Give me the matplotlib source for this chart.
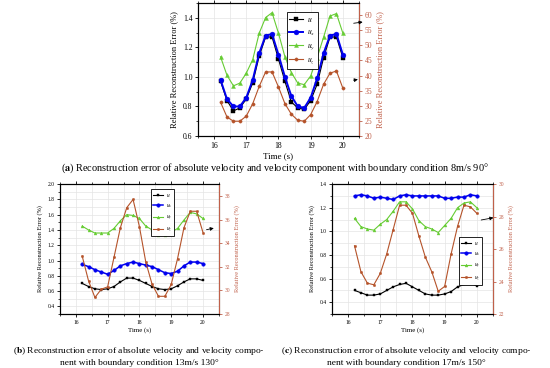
import numpy as np
import matplotlib.pyplot as plt
from matplotlib.ticker import MultipleLocator

plt.rcParams['font.family'] = ['Liberation Serif', 'DejaVu Serif']
plt.rcParams['mathtext.fontset'] = 'stix'

# 时间轴
time = [16.2, 16.4, 16.6, 16.8, 17.0, 17.2, 17.4, 17.6, 17.8, 18.0,
        18.2, 18.4, 18.6, 18.8, 19.0, 19.2, 19.4, 19.6, 19.8, 20.0]

# (a) 8m/s 90°
a_u = [0.97, 0.84, 0.77, 0.79, 0.85, 0.96, 1.14, 1.27, 1.27, 1.12,
       0.97, 0.83, 0.79, 0.78, 0.84, 0.95, 1.13, 1.27, 1.27, 1.13]
a_ux = [0.98, 0.85, 0.80, 0.80, 0.86, 0.98, 1.16, 1.28, 1.29, 1.15,
        1.00, 0.87, 0.80, 0.79, 0.86, 0.99, 1.16, 1.28, 1.29, 1.15]
a_uy = [46.2, 40.1, 36.6, 37.5, 40.8, 45.3, 54.0, 59.2, 60.8, 54.0,
        46.2, 41.0, 37.5, 37.0, 39.9, 45.9, 52.7, 59.7, 60.5, 54.0]
a_uz = [31.2, 26.3, 24.9, 24.9, 26.6, 30.7, 36.4, 41.2, 41.2, 36.2,
        30.7, 27.2, 25.2, 24.9, 27.1, 31.4, 37.1, 40.8, 41.5, 35.8]

# (b) 13m/s 130°
b_u = [0.70, 0.66, 0.63, 0.62, 0.63, 0.66, 0.72, 0.77, 0.77, 0.74,
       0.70, 0.66, 0.63, 0.62, 0.63, 0.67, 0.72, 0.76, 0.76, 0.74]
b_ux = [0.95, 0.92, 0.88, 0.85, 0.82, 0.87, 0.93, 0.96, 0.98, 0.96,
        0.94, 0.92, 0.88, 0.84, 0.83, 0.86, 0.93, 0.98, 0.98, 0.96]
b_uy = [1.45, 1.40, 1.36, 1.36, 1.36, 1.42, 1.52, 1.60, 1.59, 1.55,
        1.45, 1.40, 1.34, 1.34, 1.37, 1.42, 1.53, 1.63, 1.61, 1.55]
b_uz = [32.9, 30.8, 29.4, 30.1, 30.3, 32.8, 35.3, 37.0, 37.7, 35.4,
        32.4, 30.5, 29.5, 29.5, 30.5, 32.7, 35.3, 36.7, 36.7, 34.9]

# (c) 17m/s 150°
c_u = [0.50, 0.48, 0.46, 0.46, 0.47, 0.50, 0.53, 0.55, 0.56, 0.53,
       0.50, 0.47, 0.46, 0.46, 0.47, 0.49, 0.53, 0.55, 0.56, 0.54]
c_ux = [1.30, 1.31, 1.30, 1.28, 1.29, 1.28, 1.27, 1.30, 1.31, 1.30,
        1.30, 1.30, 1.30, 1.30, 1.28, 1.28, 1.29, 1.29, 1.31, 1.30]
c_uy = [1.11, 1.04, 1.02, 1.01, 1.06, 1.10, 1.17, 1.25, 1.25, 1.19,
        1.09, 1.04, 1.02, 0.99, 1.05, 1.11, 1.20, 1.24, 1.25, 1.20]
c_uz = [26.2, 24.6, 23.9, 23.8, 24.5, 25.7, 27.2, 28.7, 28.7, 28.2,
        26.8, 25.5, 24.6, 23.4, 23.7, 25.7, 27.4, 28.7, 28.6, 28.2]

labels = ['$u$', '$u_x$', '$u_y$', '$u_z$']
captions = [
    r'($\mathbf{a}$) Reconstruction error of absolute velocity and velocity component with boundary condition 8m/s 90°',
    '($\\mathbf{b}$) Reconstruction error of absolute velocity and velocity compo-\nnent with boundary condition 13m/s 130°',
    '($\\mathbf{c}$) Reconstruction error of absolute velocity and velocity compo-\nnent with boundary condition 17m/s 150°',
]

C_U = '#000000'
C_UX = '#0000EE'
C_UY = '#66CC33'
C_UZ = '#B5532A'
C_R = '#C0604A'
GRID = '#E4E4E4'


def draw_panel(fig, rect, left, right, lylim, lystep, rylim, rystep, fs, ms, lw_ux, leg_anchor, arrows):
    ax = fig.add_axes(rect)
    ax2 = ax.twinx()
    styles = {'$u$': (C_U, 's', 0.8, 1.0), '$u_x$': (C_UX, 'o', lw_ux, 1.35),
              '$u_y$': (C_UY, '^', 0.8, 1.1), '$u_z$': (C_UZ, 'o', 0.8, 0.9)}
    handles = []
    for target, series in ((ax, left), (ax2, right)):
        for lab, vals in series:
            c, m, lw, k = styles[lab]
            h, = target.plot(time, vals, color=c, marker=m, ms=ms * k, mew=0.3, lw=lw, label=lab)
            handles.append(h)
    handles.sort(key=lambda h: labels.index(h.get_label()))

    ax.set_xlim(15.5, 20.5)
    ax.set_ylim(*lylim)
    ax2.set_ylim(*rylim)
    ax.xaxis.set_major_locator(MultipleLocator(1))
    ax.xaxis.set_minor_locator(MultipleLocator(0.5))
    ax.yaxis.set_major_locator(MultipleLocator(lystep))
    ax.yaxis.set_minor_locator(MultipleLocator(lystep / 2))
    ax2.yaxis.set_major_locator(MultipleLocator(rystep))
    ax.grid(True, which='both', color=GRID, lw=0.5)
    ax.set_axisbelow(True)
    ax.tick_params(labelsize=fs, width=0.6, length=2.5, pad=1.5)
    ax.tick_params(which='minor', length=1.5, width=0.5)
    ax.tick_params(axis='x', top=True, which='both')
    ax2.tick_params(labelsize=fs, colors=C_R, width=0.6, length=2.5, pad=1.5)
    ax2.spines['right'].set_color(C_R)
    for s in ['left', 'top', 'bottom']:
        ax.spines[s].set_linewidth(0.8)
    ax2.spines['right'].set_linewidth(0.8)
    ax.set_xlabel('Time (s)', fontsize=fs + 1, labelpad=2)
    ax.set_ylabel('Relative Reconstruction Error (%)', fontsize=fs + 0.5, labelpad=3)
    ax2.set_ylabel('Relative Reconstruction Error (%)', fontsize=fs + 0.5, color=C_R, labelpad=3)

    leg = ax2.legend(handles=handles, loc='upper left', bbox_to_anchor=leg_anchor,
                     fontsize=fs, frameon=True, fancybox=False, edgecolor='black',
                     framealpha=1, handlelength=1.8, handletextpad=0.5,
                     borderpad=0.35, labelspacing=0.45, borderaxespad=0)
    leg.get_frame().set_linewidth(0.6)

    for (x0, y0), (x1, y1) in arrows:
        ax2.annotate('', xy=(x1, y1), xytext=(x0, y0), xycoords='axes fraction',
                     textcoords='axes fraction', annotation_clip=False,
                     arrowprops=dict(arrowstyle='-|>', lw=0.6, color='black', mutation_scale=5))
    return ax, ax2


fig = plt.figure(figsize=(5.5, 3.68), dpi=100)

draw_panel(fig, [0.36, 0.6304, 0.2927, 0.3614],
           [('$u$', a_u), ('$u_x$', a_ux)], [('$u_y$', a_uy), ('$u_z$', a_uz)],
           (0.6, 1.5), 0.2, (20, 64), 5, 5.5, 2.6, 1.4, (0.55, 0.93),
           [((0.95, 0.845), (1.04, 0.86)), ((0.95, 0.415), (1.01, 0.43))])

draw_panel(fig, [0.109, 0.1467, 0.289, 0.353],
           [('$u$', b_u), ('$u_x$', b_ux), ('$u_y$', b_uy)], [('$u_z$', b_uz)],
           (0.3, 2.0), 0.2, (28, 39), 2, 4.0, 1.9, 1.1, (0.575, 0.965),
           [((0.905, 0.645), (0.985, 0.665))])

draw_panel(fig, [0.6036, 0.1467, 0.2927, 0.353],
           [('$u$', c_u), ('$u_x$', c_ux), ('$u_y$', c_uy)], [('$u_z$', c_uz)],
           (0.3, 1.4), 0.2, (22, 30), 2, 4.0, 1.9, 1.1, (0.79, 0.595),
           [((0.91, 0.72), (1.02, 0.745))])

fig.text(0.5, 1 - 168 / 368, captions[0], ha='center', va='center', fontsize=7.4)
fig.text(0.253, 1 - 356 / 368, captions[1], ha='center', va='center', fontsize=6.8, linespacing=1.3)
fig.text(0.738, 1 - 356 / 368, captions[2], ha='center', va='center', fontsize=6.8, linespacing=1.3)

fig.savefig('out.png', dpi=100)
